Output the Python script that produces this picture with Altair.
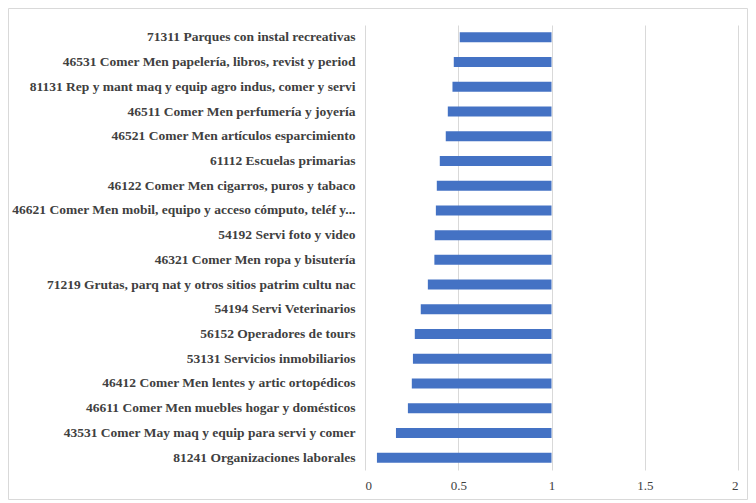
import altair as alt
import pandas as pd

categories = [
    "71311 Parques con instal recreativas",
    "46531 Comer Men papelería, libros, revist y period",
    "81131 Rep y mant maq y equip agro indus, comer y servi",
    "46511 Comer Men perfumería y joyería",
    "46521 Comer Men artículos esparcimiento",
    "61112 Escuelas primarias",
    "46122 Comer Men cigarros, puros y tabaco",
    "46621 Comer Men mobil, equipo y acceso cómputo, teléf y...",
    "54192 Servi foto y video",
    "46321 Comer Men ropa y bisutería",
    "71219 Grutas, parq nat y otros sitios patrim cultu nac",
    "54194 Servi Veterinarios",
    "56152 Operadores de tours",
    "53131 Servicios inmobiliarios",
    "46412 Comer Men lentes y artic ortopédicos",
    "46611 Comer Men muebles hogar y domésticos",
    "43531 Comer May maq y equip para servi y comer",
    "81241 Organizaciones laborales",
]
values = [0.508, 0.476, 0.469, 0.444, 0.433, 0.401, 0.385, 0.380, 0.374,
          0.372, 0.337, 0.299, 0.267, 0.257, 0.251, 0.230, 0.166, 0.064]
axis_cross = [1.0] * len(values)
x_ticks = [0, 0.5, 1, 1.5, 2]

df = pd.DataFrame({"cat": categories, "val": values, "base": axis_cross})

W, H = 373, 445
PL, PT, PR, PB = 357, 17, 10, 30

frame = alt.Chart(pd.DataFrame({"k": [0]})).mark_rect(
    fillOpacity=0, stroke="#d9d9d9", strokeWidth=1
).encode(
    x=alt.value(-PL + 0.5), x2=alt.value(W + PR - 0.5),
    y=alt.value(-PT + 0.5), y2=alt.value(H + PB - 0.5),
)

bars = alt.Chart(df).mark_bar(color="#4472C4", size=10, clip=False).encode(
    y=alt.Y("cat:N", sort=categories, title=None,
            scale=alt.Scale(paddingInner=0.5, paddingOuter=0.25),
            axis=alt.Axis(labelFont="Liberation Serif", labelFontWeight="bold",
                          labelFontSize=13.5, labelColor="#404040",
                          ticks=False, domain=False, labelPadding=10,
                          labelLimit=400)),
    x=alt.X("val:Q", title=None,
            scale=alt.Scale(domain=[0, 2], nice=False),
            axis=alt.Axis(values=x_ticks, format="~g", grid=True,
                          gridColor="#d9d9d9", ticks=False, domain=False,
                          labelFont="Liberation Serif", labelFontSize=13,
                          labelColor="#404040", labelPadding=9)),
    x2="base:Q",
)

chart = alt.layer(frame, bars).properties(
    width=W, height=H,
    autosize=alt.AutoSizeParams(type="none"),
    padding={"left": PL, "top": PT, "right": PR, "bottom": PB},
).configure_view(stroke=None)

chart.save("out.html", embed_options={"renderer": "svg", "actions": False})
